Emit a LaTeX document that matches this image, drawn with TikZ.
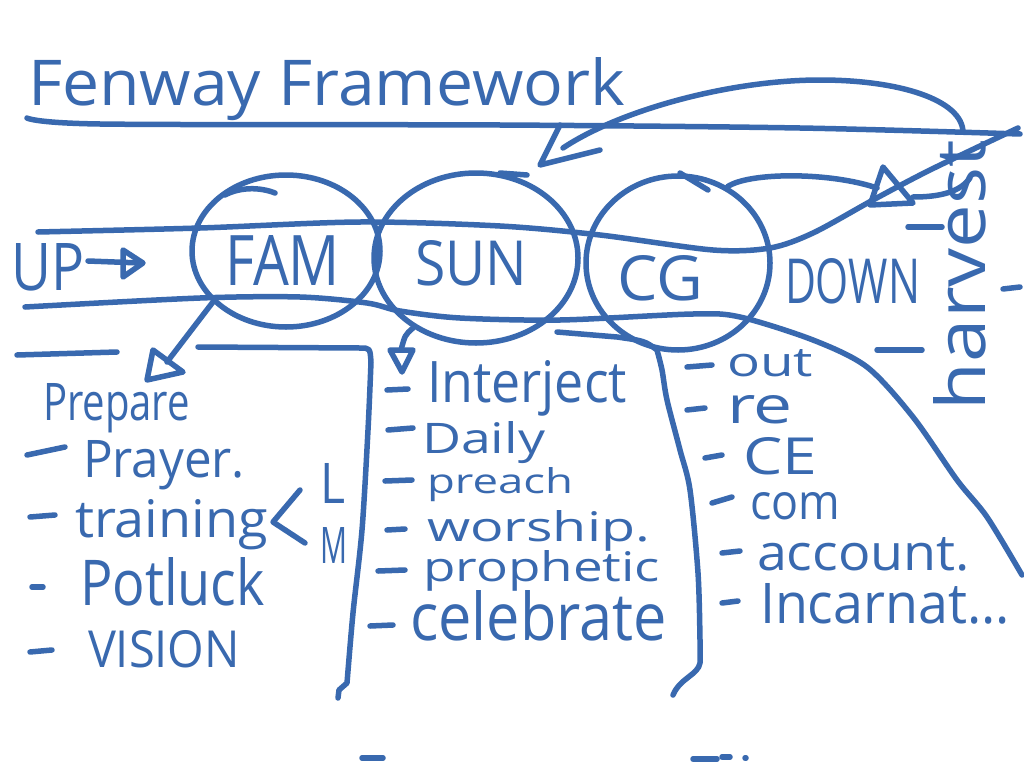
\documentclass[tikz,border=0pt]{standalone}
\usepackage{fontspec}
\setmainfont{Open Sans}
\usepackage{graphicx}
\usetikzlibrary{shapes.geometric}
\definecolor{ink}{RGB}{57,105,175}
\newcommand\hw[3]{\resizebox{#1pt}{#2pt}{#3}}
\begin{document}
\begin{tikzpicture}[x=1pt,y=-1pt,
  inkpen/.style={draw=ink,line width=5.5pt,line cap=round,line join=round},
  lbl/.style={inner sep=0pt,outer sep=0pt,anchor=base west,text=ink},
  ring/.style={draw=ink,line width=5.5pt,ellipse,inner sep=0pt}]
\useasboundingbox[fill=white] (0,0) rectangle (1024,768);

% title
\node[lbl] (title) at (28,105) {\hw{597}{48}{Fenway Framework}};
\draw[inkpen] plot[smooth] coordinates {(27,118) (100,124) (500,125) (800,128) (1020,134)};

% circles
\node[ring,minimum width=188pt,minimum height=152pt] (famc) at (286,251) {};
\node[ring,minimum width=204pt,minimum height=170pt] (sunc) at (476,258) {};
\node[ring,minimum width=184pt,minimum height=174pt] (cgc) at (678,263) {};
\draw[inkpen] (225,195) .. controls (240,187) and (260,187) .. (275,193);
\draw[inkpen] (500,173) -- (527,175);
\draw[inkpen] (680,173) -- (708,190);

% band lines
\draw[inkpen] plot[smooth] coordinates {(38,232) (200,228) (360,222) (500,226) (600,235) (713,250) (770,248) (813,233) (873,200) (930,170) (1018,128)};
\draw[inkpen] plot[smooth] coordinates {(25,307) (200,298) (300,297) (367,303) (400,311) (460,318) (560,320) (693,314) (740,317) (813,340) (867,367) (913,417) (957,480) (987,517) (1022,575)};

% labels in band
\node[lbl] (up) at (12,290) {\hw{73}{47}{UP}};
\node[lbl] (fam) at (225,285) {\hw{115}{50}{FAM}};
\node[lbl] (sun) at (415,285) {\hw{112}{45}{SUN}};
\node[lbl] (cg) at (617,300) {\hw{86}{45}{CG}};
\node[lbl] (down) at (785,303) {\hw{135}{45}{DOWN}};
\node[lbl,rotate=90] (harv) at (985,410) {\hw{270}{52}{harvest}};

% UP arrow
\coordinate (upa) at (88,261);
\coordinate (upb) at (141,263);
\draw[inkpen] (upa) -- (upb);
\draw[inkpen] (123,250) -- (143,263) -- (123,277) -- cycle;

% top curved arrow from harvest to SUN
\coordinate (harvtop) at (963,132);
\coordinate (suntip) at (540,165);
\draw[inkpen] (harvtop) .. controls (962,100) and (900,80) .. (820,80) .. controls (730,80) and (620,110) .. (563,148);
\draw[inkpen] (560,125) -- (suntip) -- (600,150);

% CG to triangle to harvest
\coordinate (tri) at (877,188);
\draw[inkpen] (cgc.57) .. controls (750,172) and (830,172) .. (tri);
\draw[inkpen] (883,167) -- (870,205) -- (913,203) -- cycle;
\draw[inkpen] (913,197) .. controls (940,197) and (960,192) .. (970,178);

% FAM arrow
\coordinate (famtip) at (147,380);
\draw[inkpen] (famc.215) -- (167,362);
\draw[inkpen] (153,350) -- (famtip) -- (183,372) -- cycle;

% SUN arrow
\coordinate (suntip2) at (402,372);
\draw[inkpen] (sunc.228) .. controls (405,335) .. (401,350);
\draw[inkpen] (390,350) -- (413,350) -- (suntip2) -- cycle;

% brackets
\draw[inkpen] (198,347) -- (360,348) .. controls (370,348) .. (371,362)
  plot[smooth] coordinates {(371,362) (368,430) (362,530) (353,613) (347,683)} -- (339,690) -- (338,698);
\draw[inkpen] (557,332) -- (617,337) .. controls (645,341) .. (657,350)
  plot[smooth] coordinates {(657,350) (662,370) (667,400) (680,450) (690,490) (698,573) (700,640) (700,663)}
  .. controls (698,675) and (680,678) .. (673,695);

% dashes
\foreach \a/\b in {{(17,355)}/{(117,352)}, {(27,455)}/{(65,447)}, {(30,517)}/{(55,515)}, {(32,587)}/{(43,587)}, {(30,652)}/{(52,650)},
  {(387,390)}/{(408,389)}, {(388,430)}/{(413,428)}, {(385,481)}/{(412,480)}, {(387,530)}/{(405,529)}, {(378,571)}/{(405,570)}, {(370,626)}/{(393,625)},
  {(687,367)}/{(712,365)}, {(687,410)}/{(705,408)}, {(705,458)}/{(722,455)}, {(712,503)}/{(732,497)}, {(722,553)}/{(740,551)}, {(722,603)}/{(738,601)},
  {(908,227)}/{(942,227)}, {(1003,289)}/{(1020,287)}, {(877,350)}/{(922,350)},
  {(362,758)}/{(383,758)}, {(693,759)}/{(717,759)}, {(722,757)}/{(730,757)}, {(745,758)}/{(746,758)}}
  \draw[inkpen] \a -- \b;

% FAM list
\node[lbl] (prep) at (43,420) {\hw{147}{37}{Prepare}};
\node[lbl] (pray) at (83,477) {\hw{162}{37}{Prayer.}};
\node[lbl] (train) at (75,537) {\hw{193}{38}{training}};
\draw[inkpen] (300,490) -- (273,522) -- (305,543);
\node[lbl] (ll) at (320,503) {\hw{25}{40}{L}};
\node[lbl] (mm) at (320,563) {\hw{27}{36}{M}};
\node[lbl] (pot) at (80,605) {\hw{185}{48}{Potluck}};
\node[lbl] (vis) at (88,667) {\hw{152}{37}{VISION}};

% SUN list
\node[lbl] (inter) at (427,402) {\hw{200}{42}{Interject}};
\node[lbl] (daily) at (422,453) {\hw{123}{32}{Daily}};
\node[lbl] (preach) at (427,493) {\hw{146}{26}{preach}};
\node[lbl] (wor) at (427,541) {\hw{223}{31}{worship.}};
\node[lbl] (proph) at (423,581) {\hw{237}{31}{prophetic}};
\node[lbl] (celeb) at (410,640) {\hw{257}{50}{celebrate}};

% CG list
\node[lbl] (out) at (727,376) {\hw{86}{27}{out}};
\node[lbl] (re) at (727,423) {\hw{66}{28}{re}};
\node[lbl] (ce) at (743,474) {\hw{74}{37}{CE}};
\node[lbl] (com) at (750,519) {\hw{90}{27}{com}};
\node[lbl] (acc) at (757,570) {\hw{213}{33}{account.}};
\node[lbl] (inc) at (760,623) {\hw{250}{40}{Incarnat...}};
\end{tikzpicture}
\end{document}
